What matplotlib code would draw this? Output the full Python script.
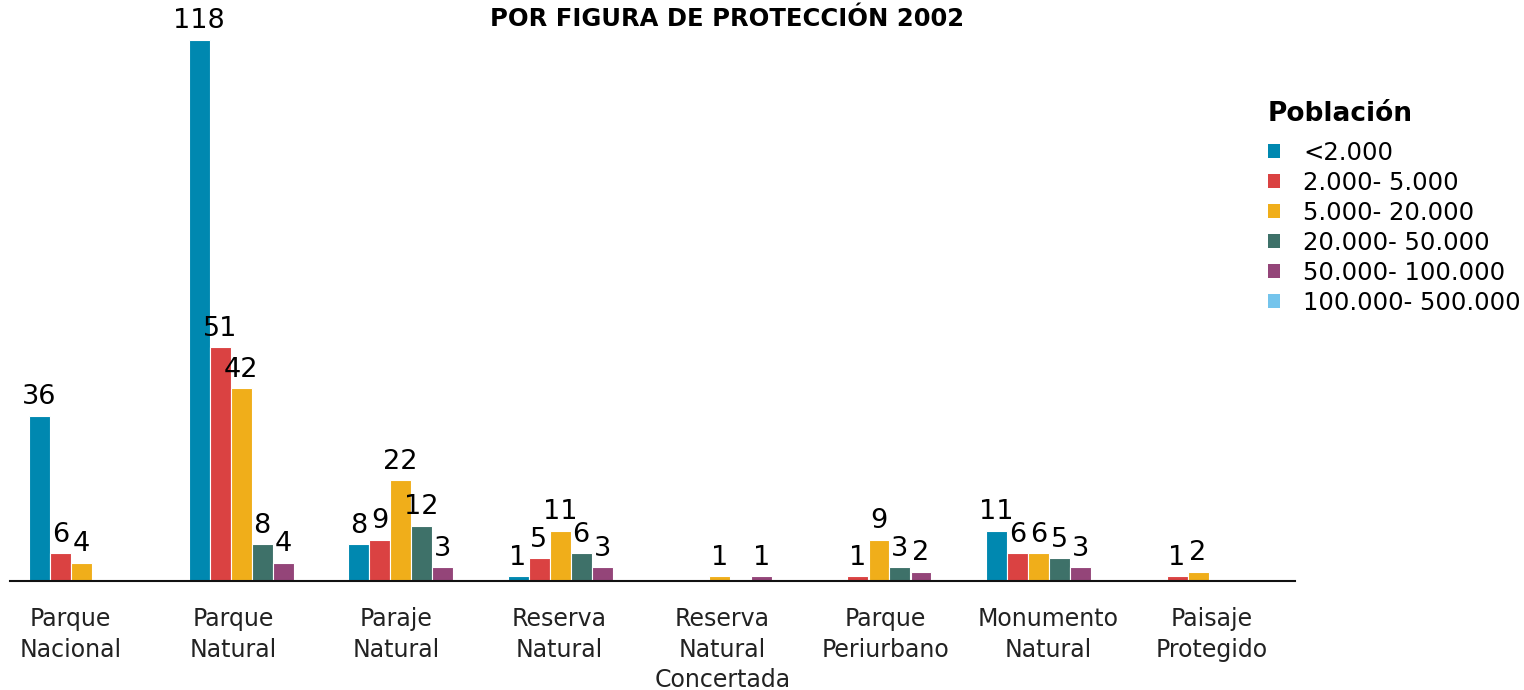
import numpy as np
import matplotlib.pyplot as plt
from matplotlib.patches import Patch

categories = ['Parque\nNacional', 'Parque\nNatural', 'Paraje\nNatural', 'Reserva\nNatural',
              'Reserva\nNatural\nConcertada', 'Parque\nPeriurbano', 'Monumento\nNatural',
              'Paisaje\nProtegido']
series = ['<2.000', '2.000- 5.000', '5.000- 20.000', '20.000- 50.000',
          '50.000- 100.000', '100.000- 500.000']
colors = ['#0088B0', '#DA4242', '#F0AE1A', '#3E7169', '#944579', '#74C4EC']

# values per series, one per category (0 = no bar)
pop_lt2k = [36, 118, 8, 1, 0, 0, 11, 0]
pop_2k_5k = [6, 51, 9, 5, 0, 1, 6, 1]
pop_5k_20k = [4, 42, 22, 11, 1, 9, 6, 2]
pop_20k_50k = [0, 8, 12, 6, 0, 3, 5, 0]
pop_50k_100k = [0, 4, 3, 3, 1, 2, 3, 0]
pop_100k_500k = [0, 0, 0, 0, 0, 0, 0, 0]
values = [pop_lt2k, pop_2k_5k, pop_5k_20k, pop_20k_50k, pop_50k_100k, pop_100k_500k]

fig = plt.figure(figsize=(15.24, 6.9), dpi=100)
ax = fig.add_axes([10 / 1524, 109 / 690, 1285 / 1524, 541 / 690])

w = 21 / 159.5
x = np.arange(len(categories))
for j, (vals, c) in enumerate(zip(values, colors)):
    for i, v in enumerate(vals):
        if v == 0:
            continue
        ax.bar(x[i] + j * w, v, width=w, align='edge', color=c,
               edgecolor='white', linewidth=0.8)
        ax.annotate(str(v), (x[i] + j * w + w / 2, v), xytext=(0, 4),
                    textcoords='offset points', ha='center', va='bottom',
                    fontsize=19.5, color='black', annotation_clip=False)

ax.set_xlim(-19 / 159.5, 1285 / 159.5 - 19 / 159.5)
ax.set_ylim(0, 118)
ax.set_yticks([])
ax.set_xticks(0.26 + x * 1.022)
ax.set_xticklabels(categories, fontsize=17, color='#222222', linespacing=1.33)
ax.tick_params(axis='x', length=0, pad=19)
for s in ['top', 'left', 'right']:
    ax.spines[s].set_visible(False)
ax.spines['bottom'].set_linewidth(1.5)
ax.spines['bottom'].set_color('#111111')

fig.text(0.477, 0.973, 'POR FIGURA DE PROTECCIÓN 2002', ha='center', va='center',
         fontsize=17.5, fontweight='bold')

handles = [Patch(facecolor=c, edgecolor='none') for c in colors]
leg = fig.legend(handles, series, loc='upper left', bbox_to_anchor=(1258 / 1524, 1 - 91 / 690),
                 frameon=False, fontsize=17.5, title='Población',
                 title_fontproperties={'size': 19, 'weight': 'bold'},
                 handlelength=0.52, handleheight=0.52, handletextpad=0.95,
                 labelspacing=0.25, borderaxespad=0)
leg._legend_box.align = 'left'
leg._legend_box.sep = 10

fig.savefig('out.png', dpi=100)
